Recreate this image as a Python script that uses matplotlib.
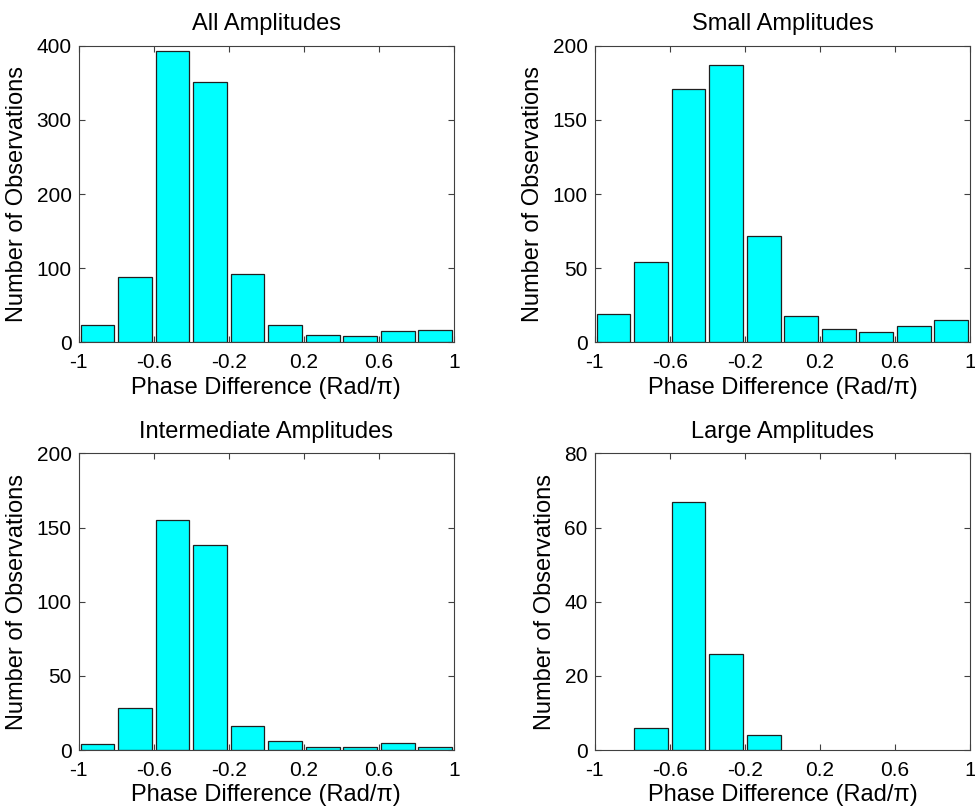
import matplotlib
matplotlib.use('Agg')
import matplotlib.pyplot as plt
import numpy as np

plt.rcParams['font.family'] = ['Liberation Sans', 'DejaVu Sans']
plt.rcParams['axes.unicode_minus'] = False

# bin centres of the phase difference histogram (Rad/pi)
bin_centers = [-0.9, -0.7, -0.5, -0.3, -0.1, 0.1, 0.3, 0.5, 0.7, 0.9]

# counts
all_counts = [23, 88, 393, 351, 92, 24, 10, 9, 15, 16]
small_counts = [19, 54, 171, 187, 72, 18, 9, 7, 11, 15]
intermediate_counts = [4, 28, 155, 138, 16, 6, 2, 2, 5, 2]
large_counts = [0, 6, 67, 26, 4, 0, 0, 0, 0, 0]

titles = ['All Amplitudes', 'Small Amplitudes',
          'Intermediate Amplitudes', 'Large Amplitudes']
y_max = [400, 200, 200, 80]
y_step = [100, 50, 50, 20]

x_ticks = [-1, -0.6, -0.2, 0.2, 0.6, 1]
x_tick_labels = ['-1', '-0.6', '-0.2', '0.2', '0.6', '1']

fs = 17        # titles and axis labels
tick_fs = 15   # tick labels

fig = plt.figure(figsize=(9.75, 8.07), dpi=100)

positions = [
    [0.0807, 0.5758, 0.385, 0.3676],
    [0.610, 0.5758, 0.385, 0.3676],
    [0.0807, 0.0706, 0.385, 0.3676],
    [0.610, 0.0706, 0.385, 0.3676],
]
data = [all_counts, small_counts, intermediate_counts, large_counts]

for i in range(4):
    ax = fig.add_axes(positions[i])
    counts = np.array(data[i])
    mask = counts > 0
    ax.bar(np.array(bin_centers)[mask], counts[mask], width=0.18,
           color='#00ffff', edgecolor='#202020', linewidth=0.9)
    ax.set_xlim(-1, 1)
    ax.set_ylim(0, y_max[i])
    ax.set_xticks(x_ticks)
    ax.set_xticklabels(x_tick_labels)
    ax.set_yticks(np.arange(0, y_max[i] + 1, y_step[i]))
    ax.tick_params(direction='in', top=True, right=True, labelsize=tick_fs,
                   length=4, width=0.8, color='#404040')
    ax.tick_params(axis='x', pad=8)
    ax.tick_params(axis='y', pad=5)
    for s in ax.spines.values():
        s.set_color('#404040')
        s.set_linewidth(0.8)
    ax.set_title(titles[i], fontsize=fs, pad=11)
    ax.set_xlabel('Phase Difference (Rad/\u03c0)', fontsize=fs, labelpad=3)
    ax.set_ylabel('Number of Observations', fontsize=fs, labelpad=6)

fig.savefig('out.png', dpi=100)
